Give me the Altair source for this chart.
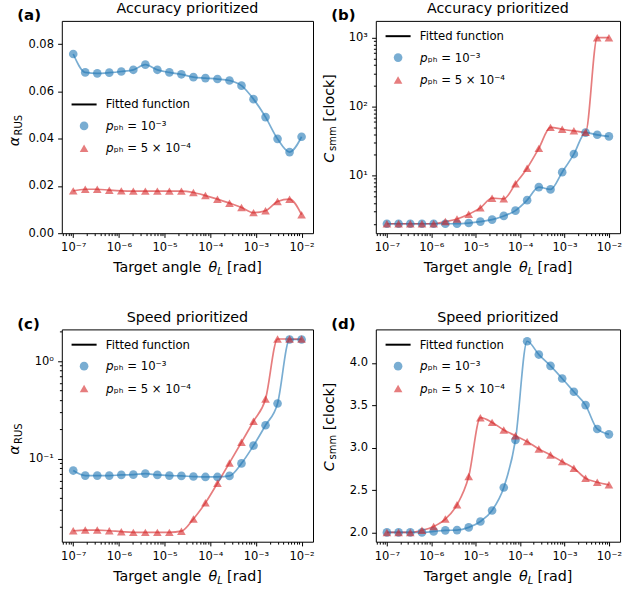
import altair as alt
import pandas as pd

# ---------------- data ----------------
theta = [1.0e-7, 1.833e-7, 3.360e-7, 6.158e-7, 1.129e-6, 2.069e-6, 3.793e-6, 6.952e-6,
         1.274e-5, 2.336e-5, 4.281e-5, 7.848e-5, 1.438e-4, 2.637e-4, 4.833e-4, 8.859e-4,
         1.624e-3, 2.976e-3, 5.456e-3, 1.0e-2]

# (a) Accuracy prioritized, alpha_RUS
a_p1 = [0.0758, 0.0680, 0.0676, 0.0679, 0.0684, 0.0691, 0.0713, 0.0691, 0.0680, 0.0672,
        0.0660, 0.0656, 0.0652, 0.0646, 0.0624, 0.0567, 0.0491, 0.0399, 0.0343, 0.0408]
a_p2 = [0.0179, 0.0186, 0.0186, 0.0182, 0.0179, 0.0178, 0.0178, 0.0178, 0.0178, 0.0178,
        0.0172, 0.0159, 0.0144, 0.0127, 0.0109, 0.0087, 0.0095, 0.0134, 0.0144, 0.0078]
# (b) Accuracy prioritized, C_smm
b_p1 = [2.0, 2.0, 2.0, 2.0, 2.0, 2.0, 2.0, 2.05, 2.15, 2.3,
        2.6, 3.1, 4.4, 6.8, 6.3, 11.2, 20.5, 42.0, 39.0, 37.0]
b_p2 = [2.0, 2.0, 2.0, 2.0, 2.0, 2.15, 2.35, 2.75, 3.4, 4.7,
        4.6, 7.6, 12.8, 24.8, 50.0, 47.0, 44.5, 42.5, 1000.0, 1000.0]
# (c) Speed prioritized, alpha_RUS
c_p1 = [0.076, 0.0675, 0.0675, 0.0675, 0.0686, 0.069, 0.0708, 0.0686, 0.0675, 0.067,
        0.066, 0.0654, 0.0654, 0.067, 0.090, 0.137, 0.221, 0.369, 1.67, 1.67]
c_p2 = [0.0184, 0.0187, 0.0187, 0.0184, 0.0180, 0.0177, 0.0177, 0.0177, 0.0177, 0.0182,
        0.0243, 0.0355, 0.0564, 0.091, 0.148, 0.243, 0.411, 1.69, 1.69, 1.69]
# (d) Speed prioritized, C_smm
d_p1 = [2.0, 2.0, 2.0, 2.0, 2.012, 2.024, 2.027, 2.059, 2.129, 2.259,
        2.529, 3.09, 4.255, 4.098, 3.965, 3.816, 3.659, 3.502, 3.22, 3.157]
d_p2 = [2.0, 2.0, 2.0, 2.024, 2.07, 2.157, 2.325, 2.659, 3.353, 3.298,
        3.208, 3.141, 3.071, 2.984, 2.914, 2.835, 2.757, 2.639, 2.592, 2.561]

FIT = "Fitted function"
S1 = "𝘱ₚₕ = 10⁻³"
S2 = "𝘱ₚₕ = 5 × 10⁻⁴"
SERIES = [FIT, S1, S2]

titles = ["Accuracy prioritized", "Accuracy prioritized", "Speed prioritized", "Speed prioritized"]
letters = ["(a)", "(b)", "(c)", "(d)"]

x_major = [1e-7, 1e-6, 1e-5, 1e-4, 1e-3, 1e-2]
X_DOMAIN = [5.62e-8, 1.778e-2]
x_minor = [k * 10.0 ** e for e in range(-8, -1) for k in range(2, 10)
           if X_DOMAIN[0] < k * 10.0 ** e < X_DOMAIN[1]]

a_ticks = [0.0, 0.02, 0.04, 0.06, 0.08]
b_ticks = [10, 100, 1000]
b_minor = [k * 10.0 ** e for e in range(0, 4) for k in range(2, 10) if 1.46 < k * 10.0 ** e < 1750]
c_ticks = [0.1, 1.0]
c_minor = [k * 10.0 ** e for e in range(-2, 1) for k in range(2, 10) if 0.0142 < k * 10.0 ** e < 2.12]
d_ticks = [2.0, 2.5, 3.0, 3.5, 4.0]

# ---------------- style ----------------
FONT = "DejaVu Sans"
BLUE = "rgba(31,119,180,0.6)"
RED = "rgba(214,39,40,0.6)"
W1, W2, H = 252, 245, 213

SUP = "['⁰','¹','²','³','⁴','⁵','⁶','⁷','⁸','⁹']"
LOG_LABEL = ("'10' + (datum.value < 1 ? '⁻' : '') + " + SUP +
             "[round(abs(log(datum.value) / LN10))]")

one = pd.DataFrame({"k": [0]})


def txt(text, x, y, size, style="normal", weight="normal", angle=0, align="left"):
    return alt.Chart(one).mark_text(
        text=text, font=FONT, fontSize=size, fontStyle=style, fontWeight=weight,
        angle=angle, align=align, baseline="alphabetic", color="black"
    ).encode(x=alt.value(x), y=alt.value(y))


def xtitle(W):
    s = W / 2 - 74.5
    yb = H + 39.3
    return [
        txt("Target angle", s, yb, 14.3),
        txt("θ", s + 95.6, yb, 14.3, style="italic"),
        txt("L", s + 104.4, yb + 3, 10, style="italic"),
        txt("[rad]", s + 114.3, yb, 14.3),
    ]


def ytitle_alpha():
    return [
        txt("α", -43, 125.7, 14.3, style="italic", angle=270),
        txt("RUS", -40, 115, 10, angle=270),
    ]


def ytitle_c():
    return [
        txt("C", -42, 142.3, 14.3, style="italic", angle=270),
        txt("smm", -39.5, 130.5, 10, angle=270),
        txt("[clock]", -42, 101.3, 14.3, angle=270),
    ]


def panel(p1, p2, ydom, ylog, ymajor, yfmt, yminor, title, letter, ytitle, W, legend_y):
    df = pd.DataFrame({
        "theta": theta + theta,
        "value": p1 + p2,
        "series": [S1] * len(p1) + [S2] * len(p2),
    })
    xs = alt.Scale(type="log", domain=X_DOMAIN, nice=False)
    if ylog:
        ys = alt.Scale(type="log", domain=ydom, nice=False)
        ax_y = alt.Axis(values=ymajor, labelExpr=LOG_LABEL, title=None, orient="left")
        ax_y_minor = alt.Axis(values=yminor, labels=False, title=None, orient="left", tickSize=2.4)
    else:
        ys = alt.Scale(type="linear", domain=ydom, nice=False, zero=False)
        ax_y = alt.Axis(values=ymajor, format=yfmt, title=None, orient="left")
        ax_y_minor = None
    ax_x = alt.Axis(values=x_major, labelExpr=LOG_LABEL, title=None, orient="bottom")
    ax_x_minor = alt.Axis(values=x_minor, labels=False, title=None, orient="bottom", tickSize=2.4)

    line = alt.Chart(df).mark_line(interpolate="monotone", strokeWidth=1.7).encode(
        x=alt.X("theta:Q", scale=xs, axis=ax_x),
        y=alt.Y("value:Q", scale=ys, axis=ax_y),
        color=alt.Color("series:N", scale=alt.Scale(domain=[S1, S2], range=[BLUE, RED]), legend=None),
    )
    leg = alt.Legend(title=None, orient="none", legendX=16.5, legendY=legend_y)
    y_pts = alt.Y("value:Q", scale=ys, axis=ax_y_minor) if ylog else alt.Y("value:Q", scale=ys, axis=None)
    pts = alt.Chart(df).mark_point(filled=True, size=75, opacity=1).encode(
        x=alt.X("theta:Q", scale=xs, axis=ax_x_minor),
        y=y_pts,
        fill=alt.Fill("series:N", scale=alt.Scale(domain=SERIES, range=["black", BLUE, RED]), legend=leg),
        stroke=alt.Stroke("series:N", scale=alt.Scale(domain=SERIES, range=["black", "transparent", "transparent"]), legend=leg),
        shape=alt.Shape("series:N", scale=alt.Scale(domain=SERIES, range=["M-2.9,0H2.9", "circle", "triangle-up"]), legend=leg),
    )
    texts = (xtitle(W) + ytitle +
             [txt(letter, -44.7, -0.5, 15, weight="bold"),
              txt(title, W / 2, -7.7, 14.3, align="center")])
    return alt.layer(line, pts, *texts).resolve_axis(x="independent", y="independent").properties(
        width=W, height=H,
    )


pa = panel(a_p1, a_p2, [0.0, 0.0898], False, a_ticks, ".2f", None, titles[0], letters[0], ytitle_alpha(), W1, 78)
pb = panel(b_p1, b_p2, [1.46, 1750], True, b_ticks, None, b_minor, titles[1], letters[1], ytitle_c(), W2, 9.5)
pc = panel(c_p1, c_p2, [0.0142, 2.12], True, c_ticks, None, c_minor, titles[2], letters[2], ytitle_alpha(), W1, 9.5)
pd_ = panel(d_p1, d_p2, [1.89, 4.395], False, d_ticks, ".1f", None, titles[3], letters[3], ytitle_c(), W2, 9.5)

chart = alt.concat(pa, pb, pc, pd_, columns=2, spacing={"row": 96.5, "column": 63}, bounds="flush").resolve_scale(
    fill="independent", stroke="independent", shape="independent", color="independent"
).resolve_legend(
    fill="independent", stroke="independent", shape="independent", color="independent"
).properties(
    padding={"left": 7, "top": 0, "right": 5, "bottom": 5}
).configure_view(stroke="black", strokeWidth=1).configure_axis(
    labelFont=FONT, labelFontSize=11.5, labelColor="black", tickColor="black", tickWidth=1,
    tickSize=4.2, domain=False, grid=False, labelPadding=4.2, labelFlush=False, labelOverlap=False,
).configure_legend(
    labelFont=FONT, labelFontSize=11.7, labelColor="black", symbolSize=75, symbolStrokeWidth=2,
    labelOffset=16, rowPadding=5.5, padding=0, labelLimit=300,
)

chart.save("out.html", embed_options={"renderer": "svg", "actions": False})
